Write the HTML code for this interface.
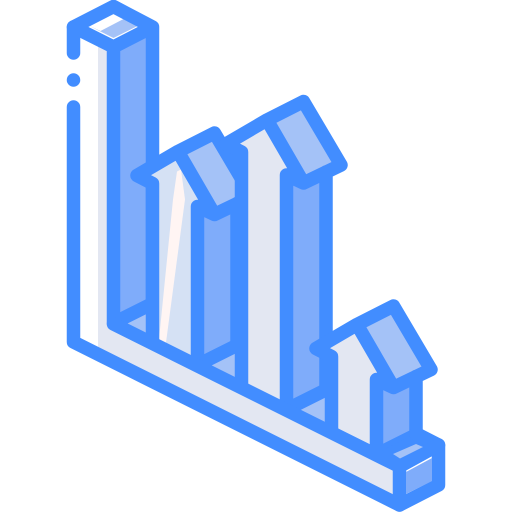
<!DOCTYPE html>
<html>
<head>
<meta charset="utf-8">
<style>
html,body{margin:0;padding:0;background:#fff;width:512px;height:512px;overflow:hidden}
svg{display:block}
</style>
</head>
<body>
<svg id="chart" xmlns="http://www.w3.org/2000/svg" width="512" height="512" viewBox="0 0 512 512">
  <polygon points="98,46 113.5,53 113.5,323 399.5,465.5 399.5,505 98,354" fill="#e3e7f2"/>
  <g id="bars"></g>
  <polygon points="376.5,453 416,433.5 438.5,445 399.5,465.5" fill="#428dff"/>
  <g fill="none" stroke="#428dff" stroke-width="13.5" stroke-linecap="round" stroke-linejoin="round">
    <path d="M73.5,107 V342 L399.5,505 L438.5,485 V445 L416,433.5"/>
    <path d="M73.5,53 V27"/>
    <path d="M113.5,324 L399.5,466.5 L438.5,445 M399.5,466.5 V505"/>
  </g>
  <circle cx="73.5" cy="80" r="6.75" fill="#428dff"/>
  <polygon points="393,454 400,458.5 423,447 416,444" fill="#a4c2f7"/>
  <polygon points="406,472 432,458 432,481 406,494" fill="#7facfa"/>
</svg>
<script>
const categories = ['bar-tall', 'bar-second', 'bar-third', 'bar-fourth'];
const barValues = [276, 158.5, 234.5, 75];

const stroke = '#428dff';
const svgNS = 'http://www.w3.org/2000/svg';
const barsGroup = document.getElementById('bars');

function xSlot(i) { return [113.5, 197.5, 286.5, 376.5][i]; }
function yBase(x) { return 323 + (x - 113.5) * 0.5; }
function yTop(x, v) { return yBase(x) - v; }

function pts(list) { return list.map(function (p) { return p[0] + ',' + p[1]; }).join(' '); }

function fillPoly(parent, list, color) {
  const el = document.createElementNS(svgNS, 'polygon');
  el.setAttribute('points', pts(list));
  el.setAttribute('fill', color);
  parent.appendChild(el);
  return el;
}

function strokePath(parent, d) {
  const el = document.createElementNS(svgNS, 'path');
  el.setAttribute('d', d);
  el.setAttribute('fill', 'none');
  el.setAttribute('stroke', stroke);
  el.setAttribute('stroke-width', '13.5');
  el.setAttribute('stroke-linecap', 'round');
  el.setAttribute('stroke-linejoin', 'round');
  parent.appendChild(el);
  return el;
}

categories.forEach(function (cat, i) {
  const fx = xSlot(i);
  const by = yBase(fx);
  const ty = yTop(fx, barValues[i]);
  const g = document.createElementNS(svgNS, 'g');
  
  
  barsGroup.appendChild(g);

  if (i < categories.length - 1) {
    const tri = fillPoly(g, [[fx, by], [fx + 43, by - 21.5], [fx + 43, by + 21.5]], '#a4c2f7');
    
    
  }

  if (i === 0) {
    const side = fillPoly(g, [[fx, ty], [fx + 39, ty - 20], [fx + 39, by - 19.5], [fx, by]], '#7facfa');
    
    
    const capBlue = fillPoly(g, [[fx, ty - 33], [fx - 24, ty - 21], [fx, ty - 9], [fx + 24, ty - 21]], '#a4c2f7');
    
    
    const capWhite = fillPoly(g, [[fx, ty - 33], [fx - 24, ty - 21], [fx - 13, ty - 16], [fx + 10, ty - 28]], '#ffffff');
    
    
    const out = strokePath(g, 'M' + (fx - 40) + ',' + (ty - 20) + ' L' + fx + ',' + (ty - 40.5) + ' L' + (fx + 39) + ',' + (ty - 20) + ' V' + (by - 19.5) + ' L' + fx + ',' + by + ' V' + ty + ' Z M' + fx + ',' + ty + ' L' + (fx + 39) + ',' + (ty - 20));
    
    
    return;
  }

  const faceColor = i === 1 ? '#d5e1f4' : '#e3e7f2';
  const front = fillPoly(g, [
    [fx - 60.5, ty - 31], [fx - 19.5, ty - 55], [fx + 17, ty + 8], [fx, ty + 8], [fx, by], [fx - 45, by - 22.5], [fx - 45, ty - 23]
  ], faceColor);
  
  

  if (i === 1) {
    const streak = fillPoly(g, [[fx - 20.5, ty - 35], [fx - 16.5, ty - 37], [fx - 12.5, ty - 7], [fx - 31.5, by - 22.5], [fx - 38.5, by - 25.5], [fx - 24.5, ty - 7]], '#fff5f3');
    
    
  }

  const right = fillPoly(g, [
    [fx, ty], [fx + 17, ty + 8], [fx + 39.5, ty - 3], [fx + 39.5, by - 19.75], [fx, by]
  ], '#7facfa');
  
  

  const head = fillPoly(g, [
    [fx + 17, ty - 73.5], [fx - 19.5, ty - 55], [fx + 17, ty + 8], [fx + 54.5, ty - 10]
  ], '#a4c2f7');
  
  

  const outline = strokePath(g,
    'M' + fx + ',' + by + ' V' + ty + ' L' + (fx + 17) + ',' + (ty + 8) + ' L' + (fx + 54.5) + ',' + (ty - 10) +
    ' L' + (fx + 17) + ',' + (ty - 73.5) + ' L' + (fx - 19.5) + ',' + (ty - 55) + ' L' + (fx - 60.5) + ',' + (ty - 31) +
    ' L' + (fx - 45) + ',' + (ty - 23) + ' V' + (by - 22.5) +
    ' M' + (fx - 19.5) + ',' + (ty - 55) + ' L' + (fx + 17) + ',' + (ty + 8) +
    ' M' + (fx + 39.5) + ',' + (ty - 3) + ' V' + (by - 19.75) + ' L' + fx + ',' + by);
  
  
});
</script>
</body>
</html>
